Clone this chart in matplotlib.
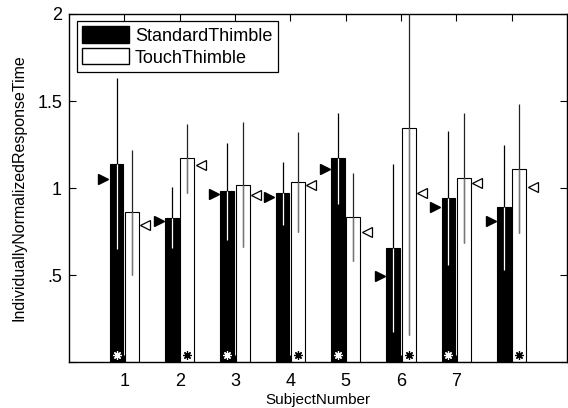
import numpy as np
import matplotlib as mpl
mpl.use("Agg")
import matplotlib.pyplot as plt
from matplotlib.patches import Patch

mpl.rcParams.update({"font.family": ["Liberation Sans", "DejaVu Sans"]})

subjects = np.arange(1, 9)
xtick_labels = ["1", "2", "3", "4", "5", "6", "7", ""]
std_mean = [1.14, 0.83, 0.98, 0.97, 1.17, 0.655, 0.94, 0.89]
std_err = [0.49, 0.175, 0.28, 0.18, 0.26, 0.485, 0.385, 0.36]
touch_mean = [0.86, 1.17, 1.02, 1.035, 0.833, 1.345, 1.057, 1.11]
touch_err = [0.36, 0.20, 0.36, 0.285, 0.255, 1.19, 0.375, 0.37]
std_marker = [1.05, 0.81, 0.965, 0.95, 1.11, 0.495, 0.89, 0.81]
touch_marker = [0.79, 1.13, 0.96, 1.02, 0.75, 0.97, 1.03, 1.006]
std_sig = [True, False, True, False, True, False, True, False]
touch_sig = [False, True, False, True, False, True, False, True]

OFF, W, MOFF = 0.14, 0.25, 0.38

fig = plt.figure(figsize=(5.68, 4.08), dpi=100)
ax = fig.add_axes([0.1215, 0.1127, 0.8765, 0.853])

xs = subjects - OFF
xt = subjects + OFF
sm, se = np.array(std_mean), np.array(std_err)
tm, te = np.array(touch_mean), np.array(touch_err)

ax.bar(xs, sm, W, color="black", edgecolor="black", lw=0.8, zorder=2)
ax.bar(xt, tm, W, color="white", edgecolor="black", lw=0.8, zorder=2)

# error lines: black outside the bar, white / grey inside it
ax.vlines(xs, sm - se, sm + se, color="black", lw=0.9, zorder=3)
ax.vlines(xs, np.maximum(sm - se, 0), sm, color="white", lw=0.9, zorder=4)
ax.vlines(xt, tm - te, tm + te, color="#222222", lw=0.9, zorder=3)
ax.vlines(xt, np.maximum(tm - te, 0), tm, color="#777777", lw=0.9, zorder=4)

ax.plot(subjects - MOFF, std_marker, ls="none", marker=">", ms=7,
        mfc="black", mec="black", zorder=5)
ax.plot(subjects + MOFF, touch_marker, ls="none", marker="<", ms=7,
        mfc="white", mec="black", mew=0.9, zorder=5)

for x, s in zip(xs, std_sig):
    if s:
        ax.plot(x, 0.04, marker=(8, 2, 0), ms=6, mec="white", mew=0.9, zorder=6)
for x, s in zip(xt, touch_sig):
    if s:
        ax.plot(x, 0.04, marker=(8, 2, 0), ms=6, mec="black", mew=0.9, zorder=6)

ax.set_xlim(0, 9)
ax.set_ylim(0, 2)
ax.set_xticks(subjects)
ax.set_xticklabels(xtick_labels)
ax.set_yticks([0, 0.5, 1, 1.5, 2])
ax.set_yticklabels(["", ".5", "1", "1.5", "2"])
ax.tick_params(direction="in", length=5, width=0.8, labelsize=13,
               top=True, right=True)
ax.tick_params(axis="x", pad=8)
ax.tick_params(axis="y", pad=5)
for s in ax.spines.values():
    s.set_linewidth(1.0)
ax.set_xlabel("SubjectNumber", fontsize=11, labelpad=2)
ax.set_ylabel("IndividuallyNormalizedResponseTime", fontsize=11.5, labelpad=8)

handles = [Patch(fc="black", ec="black", label="StandardThimble"),
           Patch(fc="white", ec="black", label="TouchThimble")]
leg = ax.legend(handles=handles, loc="upper left", fontsize=13, frameon=True,
                fancybox=False, edgecolor="black", framealpha=1,
                handlelength=2.6, handleheight=1.0, borderpad=0.3,
                labelspacing=0.2, handletextpad=0.3, borderaxespad=0,
                bbox_to_anchor=(0.016, 0.98))
leg.get_frame().set_linewidth(0.9)

fig.savefig("out.png", dpi=100)
